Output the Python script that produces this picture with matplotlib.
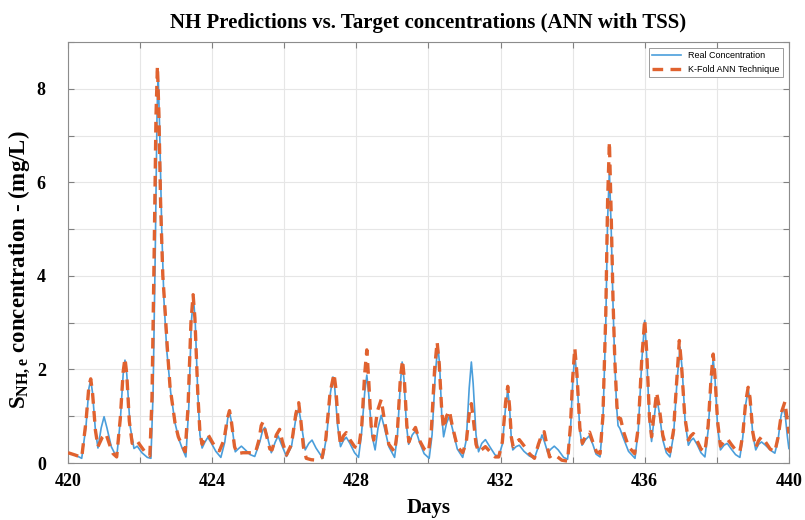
import matplotlib
matplotlib.use('Agg')
import matplotlib.pyplot as plt
import numpy as np

plt.rcParams['font.family'] = ['Liberation Serif', 'DejaVu Serif']
plt.rcParams['mathtext.fontset'] = 'custom'
plt.rcParams['mathtext.rm'] = 'Liberation Serif'
plt.rcParams['mathtext.bf'] = 'Liberation Serif:bold'
plt.rcParams['mathtext.it'] = 'Liberation Serif:italic'

real_days = [
    420.00, 420.20, 420.38, 420.50, 420.58, 420.63, 420.68, 420.76, 420.83, 420.92,
    421.00, 421.08, 421.20, 421.35, 421.45, 421.53, 421.58, 421.63, 421.72, 421.83,
    421.92, 422.05, 422.20, 422.30, 422.36, 422.42, 422.47, 422.50, 422.54, 422.60,
    422.66, 422.74, 422.85, 422.97, 423.08, 423.15, 423.27, 423.35, 423.42, 423.48,
    423.53, 423.60, 423.66, 423.72, 423.80, 423.88, 423.98, 424.10, 424.24, 424.35,
    424.43, 424.48, 424.53, 424.64, 424.72, 424.81, 424.92, 425.05, 425.18, 425.32,
    425.40, 425.46, 425.52, 425.64, 425.75, 425.83, 425.92, 426.06, 426.20, 426.32,
    426.40, 426.46, 426.58, 426.68, 426.77, 426.88, 427.07, 427.18, 427.28, 427.35,
    427.40, 427.48, 427.56, 427.64, 427.72, 427.82, 427.95, 428.06, 428.14, 428.23,
    428.29, 428.34, 428.43, 428.52, 428.60, 428.69, 428.78, 428.90, 429.06, 429.14,
    429.22, 429.27, 429.32, 429.39, 429.45, 429.55, 429.65, 429.75, 429.88, 430.02,
    430.10, 430.19, 430.26, 430.31, 430.37, 430.42, 430.50, 430.58, 430.66, 430.80,
    430.95, 431.05, 431.13, 431.19, 431.24, 431.32, 431.39, 431.48, 431.58, 431.70,
    431.85, 431.95, 432.05, 432.14, 432.20, 432.25, 432.30, 432.34, 432.43, 432.52,
    432.65, 432.80, 432.94, 433.05, 433.15, 433.22, 433.31, 433.40, 433.49, 433.60,
    433.75, 433.86, 433.94, 434.00, 434.06, 434.12, 434.20, 434.26, 434.36, 434.46,
    434.56, 434.65, 434.76, 434.84, 434.92, 434.97, 435.02, 435.07, 435.12, 435.16,
    435.22, 435.26, 435.31, 435.40, 435.55, 435.73, 435.82, 435.92, 436.00, 436.06,
    436.13, 436.19, 436.26, 436.33, 436.40, 436.50, 436.60, 436.70, 436.80, 436.90,
    436.98, 437.04, 437.12, 437.21, 437.28, 437.35, 437.45, 437.56, 437.67, 437.76,
    437.84, 437.90, 437.95, 438.02, 438.10, 438.20, 438.29, 438.40, 438.52, 438.64,
    438.72, 438.80, 438.87, 438.92, 439.00, 439.08, 439.16, 439.24, 439.35, 439.48,
    439.61, 439.70, 439.78, 439.84, 439.90, 439.96, 440.00,
]
real_conc = [
    0.22, 0.17, 0.10, 0.80, 1.60, 1.78, 1.50, 0.70, 0.32, 0.75,
    0.99, 0.75, 0.35, 0.12, 0.90, 1.90, 2.20, 1.90, 0.80, 0.31,
    0.36, 0.22, 0.12, 0.10, 1.50, 4.50, 7.50, 8.35, 7.20, 5.00,
    3.50, 2.40, 1.50, 0.85, 0.50, 0.35, 0.13, 1.20, 3.00, 3.55,
    3.00, 1.50, 0.60, 0.32, 0.45, 0.55, 0.42, 0.25, 0.12, 0.45,
    0.95, 1.09, 0.90, 0.24, 0.30, 0.36, 0.28, 0.18, 0.14, 0.45,
    0.70, 0.76, 0.60, 0.22, 0.45, 0.58, 0.40, 0.14, 0.35, 0.95,
    1.17, 0.90, 0.28, 0.42, 0.49, 0.32, 0.10, 0.60, 1.50, 1.84,
    1.60, 0.80, 0.35, 0.48, 0.55, 0.42, 0.22, 0.12, 0.60, 1.50,
    1.88, 1.50, 0.60, 0.28, 0.75, 1.02, 0.75, 0.35, 0.12, 0.60,
    1.70, 2.16, 1.80, 0.80, 0.40, 0.60, 0.70, 0.45, 0.20, 0.10,
    0.60, 1.90, 2.52, 2.10, 1.00, 0.56, 0.85, 1.00, 0.75, 0.30,
    0.12, 0.50, 1.60, 2.16, 1.70, 0.60, 0.24, 0.42, 0.50, 0.35,
    0.17, 0.15, 0.40, 1.20, 1.56, 1.20, 0.50, 0.28, 0.35, 0.38,
    0.25, 0.15, 0.10, 0.35, 0.60, 0.45, 0.22, 0.30, 0.36, 0.28,
    0.12, 0.08, 0.70, 1.70, 2.34, 1.80, 0.70, 0.38, 0.50, 0.58,
    0.40, 0.19, 0.13, 0.90, 3.00, 5.20, 6.25, 5.00, 3.40, 2.34,
    1.20, 0.80, 0.74, 0.55, 0.25, 0.10, 0.70, 2.20, 3.05, 2.20,
    0.90, 0.46, 0.95, 1.41, 1.10, 0.50, 0.22, 0.13, 0.60, 1.80,
    2.48, 2.00, 0.90, 0.38, 0.48, 0.53, 0.40, 0.22, 0.13, 0.70,
    1.70, 2.23, 1.80, 0.80, 0.28, 0.38, 0.42, 0.30, 0.18, 0.12,
    0.55, 1.25, 1.57, 1.35, 0.60, 0.28, 0.40, 0.45, 0.38, 0.28,
    0.21, 0.50, 1.00, 1.20, 1.00, 0.55, 0.31,
]

# K-fold ANN prediction
pred_days = [
    420.00, 420.20, 420.38, 420.50, 420.58, 420.63, 420.68, 420.76, 420.83, 420.95,
    421.05, 421.15, 421.25, 421.35, 421.45, 421.53, 421.58, 421.63, 421.70, 421.78,
    421.90, 422.00, 422.15, 422.27, 422.33, 422.39, 422.44, 422.48, 422.52, 422.57,
    422.63, 422.69, 422.76, 422.83, 422.97, 423.06, 423.15, 423.25, 423.33, 423.41,
    423.47, 423.52, 423.60, 423.66, 423.72, 423.80, 423.89, 424.00, 424.10, 424.20,
    424.33, 424.42, 424.48, 424.53, 424.62, 424.69, 424.85, 425.05, 425.20, 425.30,
    425.36, 425.41, 425.47, 425.60, 425.66, 425.78, 425.87, 425.95, 426.06, 426.20,
    426.32, 426.40, 426.46, 426.53, 426.61, 426.75, 426.93, 427.05, 427.15, 427.27,
    427.38, 427.43, 427.50, 427.56, 427.64, 427.72, 427.82, 427.95, 428.06, 428.15,
    428.23, 428.29, 428.34, 428.41, 428.48, 428.58, 428.69, 428.78, 428.90, 429.06,
    429.14, 429.22, 429.28, 429.33, 429.40, 429.46, 429.55, 429.64, 429.74, 429.88,
    430.00, 430.08, 430.17, 430.24, 430.30, 430.37, 430.42, 430.50, 430.58, 430.66,
    430.80, 430.95, 431.05, 431.13, 431.19, 431.25, 431.32, 431.39, 431.50, 431.58,
    431.70, 431.85, 431.95, 432.05, 432.14, 432.20, 432.25, 432.30, 432.35, 432.44,
    432.52, 432.62, 432.72, 432.80, 432.94, 433.05, 433.15, 433.21, 433.28, 433.36,
    433.45, 433.55, 433.70, 433.86, 433.94, 434.00, 434.06, 434.12, 434.20, 434.27,
    434.37, 434.47, 434.56, 434.66, 434.76, 434.84, 434.92, 434.97, 435.02, 435.07,
    435.12, 435.17, 435.23, 435.28, 435.33, 435.42, 435.55, 435.72, 435.82, 435.92,
    436.00, 436.06, 436.13, 436.19, 436.26, 436.33, 436.40, 436.50, 436.60, 436.70,
    436.80, 436.90, 436.96, 437.02, 437.11, 437.21, 437.28, 437.35, 437.45, 437.56,
    437.67, 437.76, 437.84, 437.90, 437.95, 438.02, 438.10, 438.20, 438.29, 438.40,
    438.52, 438.64, 438.72, 438.80, 438.87, 438.92, 439.00, 439.08, 439.16, 439.24,
    439.35, 439.48, 439.61, 439.70, 439.80, 439.89, 439.94, 440.00,
]
pred_conc = [
    0.22, 0.17, 0.12, 0.90, 1.65, 1.80, 1.50, 0.70, 0.35, 0.55,
    0.63, 0.40, 0.20, 0.13, 0.95, 1.95, 2.24, 1.90, 0.90, 0.42,
    0.49, 0.38, 0.22, 0.15, 1.40, 4.50, 7.40, 8.49, 7.50, 5.50,
    4.00, 3.30, 2.40, 1.63, 0.85, 0.56, 0.40, 0.24, 1.20, 3.00,
    3.60, 3.10, 1.50, 0.65, 0.40, 0.52, 0.60, 0.45, 0.32, 0.26,
    0.50, 0.95, 1.12, 0.90, 0.35, 0.20, 0.22, 0.22, 0.22, 0.50,
    0.80, 0.88, 0.70, 0.30, 0.28, 0.60, 0.72, 0.45, 0.17, 0.40,
    1.05, 1.29, 0.90, 0.35, 0.10, 0.07, 0.06, 0.12, 0.50, 1.50,
    1.91, 1.60, 0.80, 0.38, 0.58, 0.65, 0.50, 0.35, 0.30, 0.80,
    1.90, 2.42, 1.80, 0.80, 0.49, 1.10, 1.36, 0.90, 0.40, 0.24,
    0.70, 1.80, 2.20, 1.80, 0.80, 0.45, 0.65, 0.76, 0.50, 0.30,
    0.24, 0.70, 2.00, 2.59, 2.10, 1.10, 0.74, 1.00, 1.12, 0.80,
    0.35, 0.22, 0.45, 1.05, 1.27, 0.90, 0.40, 0.24, 0.30, 0.35,
    0.25, 0.13, 0.13, 0.45, 1.30, 1.64, 1.20, 0.55, 0.35, 0.45,
    0.50, 0.40, 0.30, 0.20, 0.10, 0.40, 0.62, 0.67, 0.40, 0.13,
    0.18, 0.15, 0.06, 0.04, 0.80, 1.80, 2.46, 1.90, 0.75, 0.42,
    0.60, 0.66, 0.45, 0.24, 0.20, 1.00, 3.20, 5.60, 6.87, 5.30,
    3.50, 2.20, 1.20, 0.95, 0.95, 0.65, 0.35, 0.20, 0.75, 2.25,
    3.07, 2.30, 1.00, 0.56, 1.05, 1.51, 1.20, 0.60, 0.32, 0.24,
    0.70, 1.90, 2.62, 2.10, 1.00, 0.49, 0.58, 0.63, 0.48, 0.30,
    0.24, 0.80, 1.80, 2.33, 1.85, 0.90, 0.36, 0.46, 0.52, 0.40,
    0.28, 0.24, 0.60, 1.30, 1.62, 1.40, 0.65, 0.33, 0.48, 0.56,
    0.45, 0.30, 0.24, 0.55, 1.10, 1.31, 1.00, 0.63,
]

x_ticks = np.arange(420, 441, 2)
x_labels = [str(t) if t % 4 == 0 else '' for t in x_ticks]
y_ticks = np.arange(0, 10, 1)
y_labels = [str(t) if t % 2 == 0 and t < 9 else '' for t in y_ticks]

fig = plt.figure(figsize=(8.05, 5.2), dpi=100)
ax = fig.add_axes([0.0845, 0.1096, 0.8955, 0.8094])

ax.plot(real_days, real_conc, color='#4a9edb', linewidth=1.2,
        label='Real Concentration', zorder=3)
ax.plot(pred_days, pred_conc, color='#e0622f', linewidth=2.4,
        linestyle=(0, (3.2, 2.2)), label='K-Fold ANN Technique', zorder=4)

ax.set_xlim(420, 440)
ax.set_ylim(0, 9)
ax.set_xticks(x_ticks)
ax.set_xticklabels(x_labels)
ax.set_yticks(y_ticks)
ax.set_yticklabels(y_labels)
ax.tick_params(direction='in', length=4, width=0.8, color='#808080',
               top=True, right=True, labelsize=13)
ax.tick_params(axis='x', pad=7)
ax.tick_params(axis='y', pad=16)
for lab in ax.get_xticklabels() + ax.get_yticklabels():
    lab.set_fontweight('bold')
ax.grid(True, color='#e6e6e6', linewidth=0.8)
ax.set_axisbelow(True)
for spine in ax.spines.values():
    spine.set_color('#8c8c8c')
    spine.set_linewidth(0.8)

ax.set_title('NH Predictions vs. Target concentrations (ANN with TSS)',
             fontsize=15, fontweight='bold', pad=10)
ax.set_xlabel('Days', fontsize=15, fontweight='bold', labelpad=6)
ax.set_ylabel(r'$\mathbf{S}_{\mathbf{NH,e}}$ concentration - (mg/L)',
              fontsize=16.5, fontweight='bold')
ax.yaxis.set_label_coords(-0.05, 0.46)

leg = ax.legend(loc='upper right', prop={'family': 'Liberation Sans', 'size': 6.5},
                fancybox=False, edgecolor='#8c8c8c', framealpha=1,
                handlelength=3.2, borderaxespad=0.6)
leg.get_frame().set_linewidth(0.6)

fig.savefig('out.png', dpi=100)
